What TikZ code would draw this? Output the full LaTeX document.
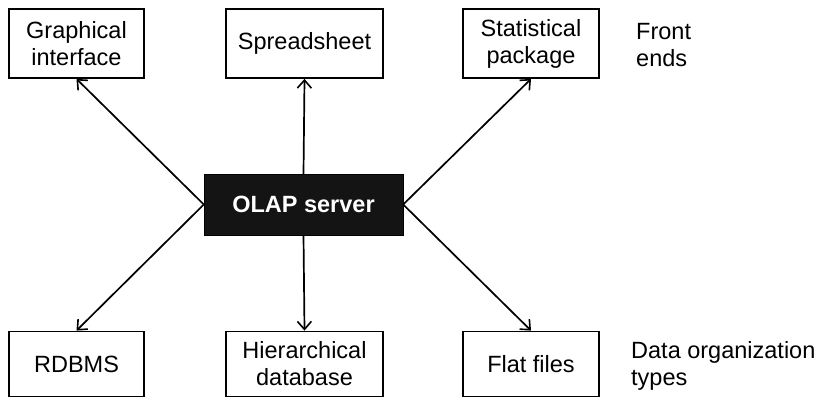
\documentclass[tikz,border=0pt]{standalone}
\usepackage{fontspec}
\setmainfont{Liberation Sans}
\usetikzlibrary{arrows.meta}
\begin{document}
\begin{tikzpicture}[x=1pt,y=1pt,
  box/.style={draw=black, line width=1.8pt, fill=white, align=center,
    inner sep=0pt, font=\fontsize{23.5}{27}\selectfont},
  server/.style={draw=black, fill=black!92, text=white, inner sep=0pt,
    font=\bfseries\fontsize{23.5}{27}\selectfont},
  side/.style={anchor=west, align=left, inner sep=0pt,
    font=\fontsize{23.5}{27}\selectfont},
  link/.style={line width=1.7pt, -{Straight Barb[length=8pt,width=14pt,line width=1.6pt]}}
]
\useasboundingbox (0,0) rectangle (827,399);

% front ends
\node[box, minimum width=135, minimum height=69] (gui) at (76.5,355.5) {Graphical\\interface};
\node[box, minimum width=157, minimum height=69] (sheet) at (304.5,355.5) {Spreadsheet};
\node[box, minimum width=136, minimum height=69] (stat) at (531,355.5) {Statistical\\package};
\node[side] (fe) at (636,354) {Front\\ends};

% server
\node[server, minimum width=199, minimum height=61] (olap) at (303.5,194.5) {OLAP server};

% data organization types
\node[box, minimum width=135, minimum height=65] (rdbms) at (76.5,35) {RDBMS};
\node[box, minimum width=157, minimum height=65] (hier) at (304.5,35) {Hierarchical\\database};
\node[box, minimum width=136, minimum height=65] (flat) at (531,35) {Flat files};
\node[side] (dot) at (631,33) {Data organization\\types};

% connectors
\draw[link] (olap.west) -- (gui.south);
\draw[link] (olap.north) -- (sheet.south);
\draw[link] (olap.east) -- (stat.south);
\draw[link] (olap.west) -- (rdbms.north);
\draw[link] (olap.south) -- (hier.north);
\draw[link] (olap.east) -- (flat.north);
\end{tikzpicture}
\end{document}
